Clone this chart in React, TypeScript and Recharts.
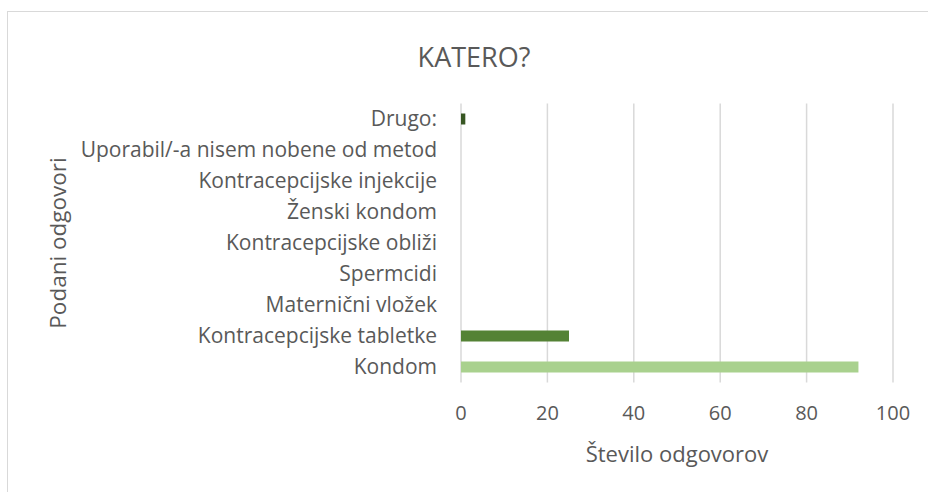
import { BarChart, Bar, XAxis, YAxis, CartesianGrid, Cell, Label } from 'recharts'

const categories = [
  'Drugo:',
  'Uporabil/-a nisem nobene od metod',
  'Kontracepcijske injekcije',
  'Ženski kondom',
  'Kontracepcijske obliži',
  'Spermcidi',
  'Maternični vložek',
  'Kontracepcijske tabletke',
  'Kondom',
]
const counts = [1, 0, 0, 0, 0, 0, 0, 25, 92]
const xTicks = [0, 20, 40, 60, 80, 100]

const barColors = ['#375623', '#548235', '#548235', '#548235', '#548235', '#548235', '#548235', '#548235', '#a9d18e']

const data = categories.map((name, i) => ({ name, value: counts[i] }))

const font = '"Open Sans", sans-serif'
const textColor = '#595959'

function YTitle(props: any) {
  const vb = props.viewBox
  const x = vb.x + 57
  const y = vb.y + vb.height / 2
  return (
    <text
      x={x}
      y={y}
      transform={`rotate(-90, ${x}, ${y})`}
      textAnchor="middle"
      dominantBaseline="central"
      fill={textColor}
      fontSize={22.5}
      fontFamily={font}
    >
      Podani odgovori
    </text>
  )
}

export default function App() {
  return (
    <div style={{ position: 'fixed', left: 0, top: 0, width: 928, height: 492, overflow: 'hidden', background: '#fff' }}>
      {/* chart frame, runs off the right and bottom edge like the screenshot */}
      <div style={{ position: 'absolute', left: 7, top: 11, width: 960, height: 520, border: '1.5px solid #d9d9d9' }} />
      <div
        style={{
          position: 'absolute',
          left: 0,
          top: 38,
          width: 948,
          textAlign: 'center',
          fontFamily: font,
          fontSize: 27,
          color: textColor,
          lineHeight: '38px',
        }}
      >
        KATERO?
      </div>
      <div style={{ position: 'absolute', left: 0, top: 0 }}>
        <BarChart
          width={928}
          height={492}
          data={data}
          layout="vertical"
          margin={{ top: 103.5, right: 35, bottom: 29.5, left: 0 }}
        >
          <CartesianGrid horizontal={false} stroke="#d9d9d9" strokeWidth={1.5} />
          <XAxis
            type="number"
            domain={[0, 100]}
            ticks={xTicks}
            axisLine={false}
            tickLine={false}
            tickSize={0}
            tickMargin={23}
            height={80}
            tick={{ fill: textColor, fontSize: 20, fontFamily: font }}
          >
            <Label
              value="Število odgovorov"
              position="insideBottom"
              offset={0.5}
              fill={textColor}
              fontSize={22}
              fontFamily={font}
            />
          </XAxis>
          <YAxis
            type="category"
            dataKey="name"
            width={461}
            axisLine={false}
            tickLine={false}
            tickSize={0}
            tickMargin={24}
            interval={0}
            tick={{ fill: textColor, fontSize: 21, fontFamily: font }}
          >
            <Label content={YTitle} />
          </YAxis>
          <Bar dataKey="value" barSize={11} isAnimationActive={false}>
            {data.map((d, i) => (
              <Cell key={d.name} fill={barColors[i]} />
            ))}
          </Bar>
        </BarChart>
      </div>
    </div>
  )
}
